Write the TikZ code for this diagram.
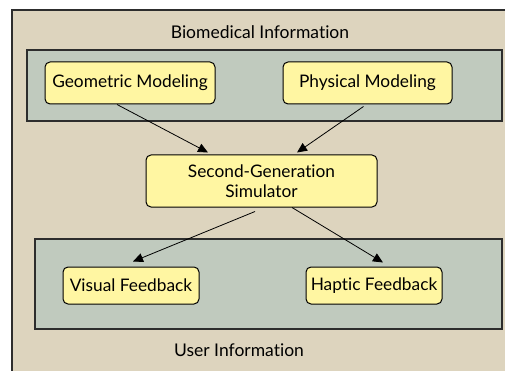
\documentclass[tikz,border=0pt]{standalone}
\usepackage{fontspec}
\setmainfont{Lato}[Ligatures={NoCommon,NoDiscretionary}]
\usepackage{xcolor}
\usetikzlibrary{arrows.meta}
\definecolor{panelbg}{RGB}{221,212,190}
\definecolor{groupbg}{RGB}{192,202,190}
\definecolor{boxbg}{RGB}{255,246,162}
\definecolor{edgegray}{RGB}{45,45,45}
\tikzset{
	group/.style={draw=edgegray,line width=1.3pt,fill=groupbg,inner sep=0pt},
	module/.style={draw=black,line width=1pt,fill=boxbg,rounded corners=5pt,
			align=center,inner sep=0pt,font=\fontsize{17.3}{19.5}\selectfont},
	caption/.style={font=\fontsize{17.5}{20}\selectfont},
	flow/.style={line width=0.8pt,-{Triangle[length=10pt,width=9pt]}}
}

\begin{document}
\begin{tikzpicture}[x=1pt,y=-1pt]
        \useasboundingbox (0,0) rectangle (505,371);
        \clip (0,0) rectangle (505,371);
        \filldraw[fill=panelbg,draw=edgegray,line width=1.3pt] (12,10) rectangle (530,400);
        \node[caption] (bio_title) at (260,32) {Biomedical Information};
        \node[group,minimum width=475pt,minimum height=71pt] (bio_group) at (264.5,85.5) {};
        \node[module,minimum width=170pt,minimum height=42pt] (geo) at (130,83) {Geometric Modeling};
        \node[module,minimum width=169pt,minimum height=42pt] (phys) at (367.5,83) {Physical Modeling};
        \node[module,minimum width=231pt,minimum height=52pt] (sim) at (261.5,181) {Second-Generation\\Simulator};
        \node[group,minimum width=467pt,minimum height=90pt] (user_group) at (268.5,284) {};
        \node[module,minimum width=136pt,minimum height=37pt] (visual) at (131,285.5) {Visual Feedback};
        \node[module,minimum width=136pt,minimum height=37pt] (haptic) at (374,285.5) {Haptic Feedback};
        \node[caption] (user_title) at (239,350) {User Information};
        \draw[flow] ([xshift=-13pt]geo.south) -- ([xshift=-53.5pt,yshift=2pt]sim.north);
        \draw[flow] ([xshift=-4pt,yshift=-2pt]phys.south) -- ([xshift=35.5pt,yshift=2pt]sim.north);
        \draw[flow] ([xshift=-6.5pt,yshift=-4pt]sim.south) -- ([xshift=2pt,yshift=5pt]visual.north);
        \draw[flow] ([xshift=30.5pt]sim.south) -- ([xshift=9pt,yshift=4pt]haptic.north);
\end{tikzpicture}
\end{document}
